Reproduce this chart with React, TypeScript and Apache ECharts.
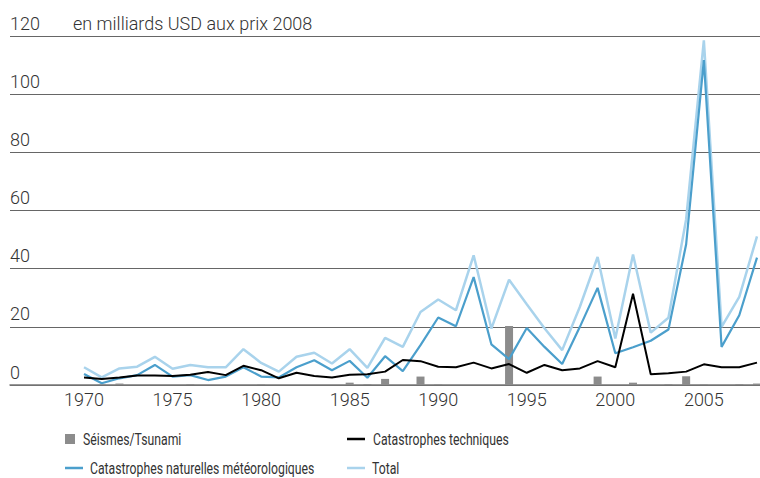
import React, { useEffect, useRef } from "react";
import * as echarts from "echarts";

const years: number[] = [
  1970, 1971, 1972, 1973, 1974, 1975, 1976, 1977, 1978, 1979,
  1980, 1981, 1982, 1983, 1984, 1985, 1986, 1987, 1988, 1989,
  1990, 1991, 1992, 1993, 1994, 1995, 1996, 1997, 1998, 1999,
  2000, 2001, 2002, 2003, 2004, 2005, 2006, 2007, 2008,
];

const seismes: number[] = [
  0, 0.2, 0.5, 0, 0, 0, 0.3, 0, 0, 0,
  0.2, 0, 0, 0, 0, 0.8, 0.3, 2.1, 0, 2.9,
  0.2, 0, 0, 0, 20.3, 0, 0, 0, 0, 2.9,
  0, 0.8, 0, 0.3, 3.0, 0.2, 0, 0.3, 0.5,
];

const techniques: number[] = [
  2.6, 2.1, 2.6, 3.3, 3.3, 3.1, 3.5, 4.5, 3.4, 6.6,
  5.1, 2.3, 4.2, 3.1, 2.6, 3.5, 3.7, 4.6, 8.6, 8.2,
  6.3, 6.1, 7.7, 5.7, 7.2, 4.2, 6.9, 5.1, 5.7, 8.2,
  6.1, 31.4, 3.7, 4.0, 4.6, 7.1, 6.1, 6.1, 7.7,
];

const meteo: number[] = [
  3.8, 0.6, 2.3, 3.4, 6.9, 2.9, 3.4, 1.7, 2.9, 6.1,
  2.9, 2.6, 6.1, 8.5, 5.1, 8.3, 2.5, 9.9, 4.8, 13.7,
  23.2, 20.2, 37.1, 14.0, 8.9, 19.6, 13.1, 7.2, 20.0, 33.4,
  10.9, 13.0, 15.2, 19.1, 48.4, 111.7, 13.1, 24.0, 43.8,
];

const total: number[] = [
  6.1, 2.6, 5.7, 6.3, 9.7, 5.6, 6.9, 6.1, 6.1, 12.3,
  7.6, 4.6, 9.7, 11.1, 7.4, 12.3, 5.9, 16.2, 13.1, 25.1,
  29.4, 25.7, 44.6, 19.4, 36.2, 27.8, 19.5, 12.0, 26.9, 44.0,
  16.0, 44.9, 18.0, 23.1, 57.0, 118.5, 20.0, 30.3, 51.1,
];

const xTickLabels: number[] = [1970, 1975, 1980, 1985, 1990, 1995, 2000, 2005];

const names = {
  seismes: "Séismes/Tsunami",
  tech: "Catastrophes techniques",
  meteo: "Catastrophes naturelles météorologiques",
  total: "Total",
};

const colors = {
  seismes: "#8c8c8c",
  tech: "#000000",
  meteo: "#4b9fcc",
  total: "#a9d3ec",
};

const unitLabel = "en milliards USD aux prix 2008";

const FONT = "Roboto, 'Noto Sans', sans-serif";

const pair = (vals: number[]) => years.map((y, i) => [y, vals[i]]);

export default function App() {
  const ref = useRef<HTMLDivElement>(null);

  useEffect(() => {
    if (!ref.current) return;
    const chart = echarts.init(ref.current, null, { renderer: "svg" });

    const legendLabel = (text: string, x: number, y: number) => ({
      type: "text",
      x,
      y,
      scaleX: 0.72,
      style: {
        text,
        fill: "#333",
        fontSize: 17,
        fontFamily: FONT,
        textVerticalAlign: "middle",
        verticalAlign: "middle",
      },
    });
    const lineIcon = (x: number, y: number, color: string) => ({
      type: "rect",
      shape: { x, y: y - 1.25, width: 18, height: 2.5 },
      style: { fill: color },
    });

    chart.setOption({
      animation: false,
      backgroundColor: "#ffffff",
      grid: { left: 10, right: 0, top: 36, bottom: 93, containLabel: false },
      xAxis: {
        type: "value",
        min: 1965.82,
        max: 2008.17,
        splitLine: { show: false },
        axisTick: { show: false },
        axisLine: { show: true, lineStyle: { color: "#777", width: 1.5 } },
        axisLabel: {
          customValues: xTickLabels,
          formatter: (v: number) => String(v),
          color: "#333",
          fontSize: 18,
          fontFamily: FONT,
          fontWeight: 300,
          margin: 5,
        },
      },
      yAxis: {
        type: "value",
        min: 0,
        max: 120,
        interval: 20,
        axisLine: { show: false },
        axisTick: { show: false },
        splitLine: { show: true, lineStyle: { color: "#666", width: 1 } },
        axisLabel: {
          inside: true,
          align: "left",
          verticalAlign: "bottom",
          margin: 0,
          padding: [0, 0, 4, 0],
          color: "#333",
          fontSize: 18,
          fontFamily: FONT,
          fontWeight: 300,
        },
      },
      graphic: [
        {
          type: "text",
          x: 73,
          y: 23,
          style: {
            text: unitLabel,
            fill: "#333",
            fontSize: 18,
            fontFamily: FONT,
            fontWeight: 300,
            textVerticalAlign: "middle",
            verticalAlign: "middle",
          },
        },
        { type: "rect", shape: { x: 65, y: 434, width: 10, height: 10 }, style: { fill: colors.seismes } },
        legendLabel(names.seismes, 83, 439),
        lineIcon(347, 439, colors.tech),
        legendLabel(names.tech, 373, 439),
        lineIcon(65, 468, colors.meteo),
        legendLabel(names.meteo, 90, 468),
        lineIcon(347, 468, colors.total),
        legendLabel(names.total, 372, 468),
      ],
      series: [
        {
          name: names.seismes,
          type: "bar",
          data: pair(seismes),
          barWidth: 8,
          itemStyle: { color: colors.seismes },
          z: 1,
        },
        {
          name: names.total,
          type: "line",
          data: pair(total),
          symbol: "none",
          lineStyle: { color: colors.total, width: 2.5 },
          itemStyle: { color: colors.total },
          z: 2,
        },
        {
          name: names.meteo,
          type: "line",
          data: pair(meteo),
          symbol: "none",
          lineStyle: { color: colors.meteo, width: 2.2 },
          itemStyle: { color: colors.meteo },
          z: 3,
        },
        {
          name: names.tech,
          type: "line",
          data: pair(techniques),
          symbol: "none",
          lineStyle: { color: colors.tech, width: 2 },
          itemStyle: { color: colors.tech },
          z: 4,
        },
      ],
    });

    return () => chart.dispose();
  }, []);

  return (
    <div
      ref={ref}
      style={{ position: "fixed", left: 0, top: 0, width: 760, height: 478 }}
    />
  );
}
